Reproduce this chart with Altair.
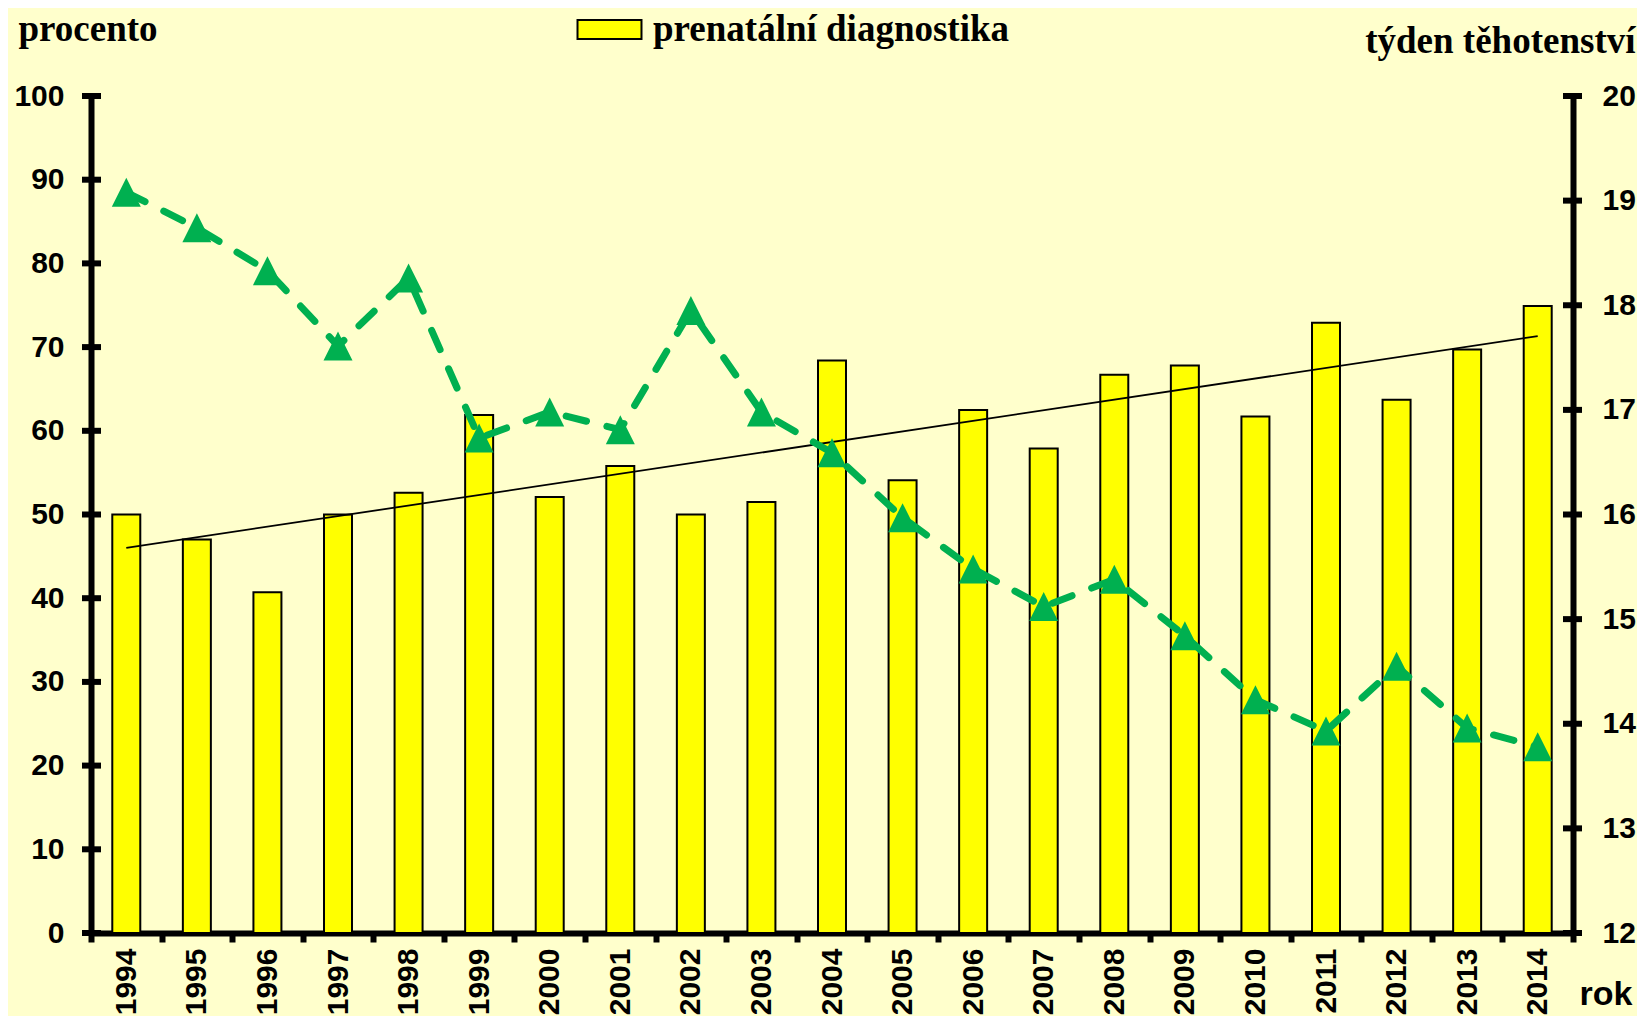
import altair as alt
import pandas as pd

years = [1994, 1995, 1996, 1997, 1998, 1999, 2000, 2001, 2002, 2003, 2004,
         2005, 2006, 2007, 2008, 2009, 2010, 2011, 2012, 2013, 2014]
pct = [50.0, 47.0, 40.7, 50.0, 52.6, 61.9, 52.1, 55.8, 50.0, 51.5, 68.4,
       54.1, 62.5, 57.9, 66.7, 67.8, 61.7, 72.9, 63.7, 69.7, 74.9]
weeks = [19.08, 18.74, 18.33, 17.61, 18.26, 16.73, 16.98, 16.81, 17.95, 16.98, 16.59,
         15.97, 15.48, 15.12, 15.38, 14.84, 14.23, 13.93, 14.55, 13.96, 13.78]
series_name = "prenatální diagnostika"
left_ticks = [0, 10, 20, 30, 40, 50, 60, 70, 80, 90, 100]
right_ticks = [12, 13, 14, 15, 16, 17, 18, 19, 20]

W, H = 1482, 837
BG = "#FFFFCC"
GREEN = "#00B050"
SANS = "Liberation Sans"
SERIF = "Liberation Serif"

df = pd.DataFrame({"year": years, "pct": pct, "weeks": weeks, "series": [series_name] * len(years)})
lt = pd.DataFrame({"v": left_ticks})
rt = pd.DataFrame({"v": right_ticks})

left_scale = alt.Scale(domain=[0, 100], nice=False, zero=True)
right_scale = alt.Scale(domain=[12, 20], nice=False, zero=False)

x_enc = alt.X(
    "year:O",
    scale=alt.Scale(paddingInner=0, paddingOuter=0),
    axis=alt.Axis(
        labelAngle=-90, labelFont=SANS, labelFontSize=30, labelFontWeight="bold",
        labelColor="black", labelPadding=6,
        tickBand="extent", tickSize=9, tickWidth=6, tickColor="black",
        domainWidth=6, domainColor="black",
        title="rok", titleFont=SANS, titleFontSize=34, titleFontWeight="bold",
        titleColor="black", titleAngle=0, titleAlign="left", titleBaseline="alphabetic",
        titleX=1488, titleY=71,
    ),
)

bars = alt.Chart(df).mark_bar(size=28, stroke="black", strokeWidth=2).encode(
    x=x_enc,
    y=alt.Y("pct:Q", scale=left_scale, axis=alt.Axis(
        orient="left", values=left_ticks, ticks=False, tickSize=0, grid=False,
        domainWidth=6, domainColor="black",
        labelFont=SANS, labelFontSize=30, labelFontWeight="bold", labelColor="black",
        labelPadding=27,
        title="procento", titleFont=SERIF, titleFontSize=37, titleFontWeight="bold",
        titleColor="black", titleAngle=0, titleAlign="left", titleBaseline="alphabetic",
        titleX=-73, titleY=-56,
    )),
    color=alt.Color("series:N", scale=alt.Scale(domain=[series_name], range=["#FFFF00"]),
                    legend=alt.Legend(
                        title=None, orient="none", legendX=496, legendY=-89, padding=0,
                        symbolType="M-1.5,-0.45H1.5V0.45H-1.5Z", symbolSize=1820,
                        symbolStrokeColor="black", symbolStrokeWidth=2, symbolOpacity=1,
                        labelFont=SERIF, labelFontSize=37, labelFontWeight="bold",
                        labelColor="black", labelOffset=21, labelLimit=800,
                    )),
)

trend = alt.Chart(df).transform_regression("year", "pct").mark_line(
    color="black", strokeWidth=1.8
).encode(
    x=alt.X("year:O"),
    y=alt.Y("pct:Q", scale=left_scale, axis=None),
)

left_tick_rules = alt.Chart(lt).mark_rule(color="black", strokeWidth=6).encode(
    y=alt.Y("v:Q", scale=left_scale, axis=None),
    x=alt.value(-9), x2=alt.value(10),
)

line = alt.Chart(df).mark_line(
    color=GREEN, strokeWidth=7, strokeDash=[21, 21], strokeCap="round"
).encode(
    x=alt.X("year:O"),
    y=alt.Y("weeks:Q", scale=right_scale, axis=alt.Axis(
        orient="right", values=right_ticks, ticks=False, tickSize=0, grid=False,
        domainWidth=6, domainColor="black",
        labelFont=SANS, labelFontSize=30, labelFontWeight="bold", labelColor="black",
        labelPadding=29,
        title="týden těhotenství", titleFont=SERIF, titleFontSize=37, titleFontWeight="bold",
        titleColor="black", titleAngle=0, titleAlign="right", titleBaseline="alphabetic",
        titleX=62, titleY=-44,
    )),
)

pts = alt.Chart(df).mark_point(
    shape="M0,-1L1,1L-1,1Z", filled=True, size=841, color=GREEN, opacity=1, strokeWidth=0
).encode(
    x=alt.X("year:O"),
    y=alt.Y("weeks:Q", scale=right_scale, axis=None),
)

right_tick_rules = alt.Chart(rt).mark_rule(color="black", strokeWidth=6).encode(
    y=alt.Y("v:Q", scale=right_scale, axis=None),
    x=alt.value(W - 10), x2=alt.value(W + 9),
)

chart = alt.layer(
    bars, trend, left_tick_rules, line, pts, right_tick_rules
).resolve_scale(y="independent").properties(
    width=W, height=H,
    background=BG,
    autosize=alt.AutoSizeParams(type="none"),
    padding={"left": 83, "top": 88, "right": 64, "bottom": 83},
).configure_view(stroke=None)

chart.save("out.html", embed_options={"renderer": "svg", "actions": False})
